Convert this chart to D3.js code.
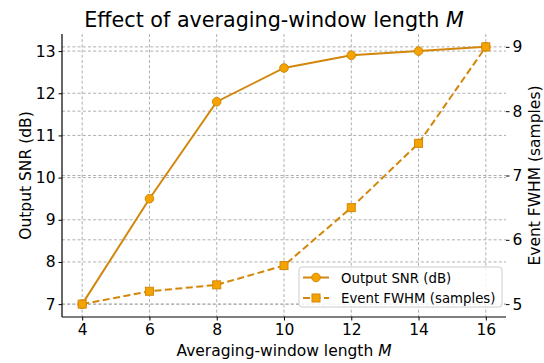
<!DOCTYPE html>
<html>
<head>
<meta charset="utf-8">
<script src="https://cdn.jsdelivr.net/npm/d3@7"></script>
<style>
  html, body { margin: 0; padding: 0; background: #fff; }
  svg { display: block; font-family: "DejaVu Sans", sans-serif; }
</style>
</head>
<body>
<svg id="chart" width="544" height="363"></svg>
<script>
// Averaging-window lengths and the two measured responses
const windowLengths = [4, 6, 8, 10, 12, 14, 16];
const snrValues = [7.0, 9.5, 11.8, 12.6, 12.9, 13.0, 13.1];
const fwhmValues = [5.0, 5.2, 5.3, 5.6, 6.5, 7.5, 9.0];
const xTicks = [4, 6, 8, 10, 12, 14, 16];
const snrTicks = [7, 8, 9, 10, 11, 12, 13];
const fwhmTicks = [5, 6, 7, 8, 9];

const lineColor = "#d2870a";
const markerFill = "#f5a300";
const gridColor = "#a6a6a6";

const svg = d3.select("#chart");
const plot = { left: 62, right: 506, top: 34, bottom: 317 };

// Pad each domain by 5% of the data span
function padded(values, frac = 0.05) {
  const [lo, hi] = d3.extent(values);
  const p = (hi - lo) * frac;
  return [lo - p, hi + p];
}

const x = d3.scaleLinear().domain(padded(windowLengths)).range([plot.left, plot.right]);
const ySnr = d3.scaleLinear().domain(padded(snrValues)).range([plot.bottom, plot.top]);
const yFwhm = d3.scaleLinear().domain(padded(fwhmValues)).range([plot.bottom, plot.top]);

// Grid lines for both vertical axes and the shared x axis
const grid = svg.append("g")
  .attr("stroke", gridColor).attr("stroke-width", 0.9)
  .attr("stroke-dasharray", "3,2.2").attr("fill", "none");
grid.selectAll("line.gx").data(xTicks).join("line")
  .attr("x1", d => x(d)).attr("x2", d => x(d))
  .attr("y1", plot.top).attr("y2", plot.bottom);
grid.selectAll("line.gy1").data(snrTicks).join("line")
  .attr("x1", plot.left).attr("x2", plot.right)
  .attr("y1", d => ySnr(d)).attr("y2", d => ySnr(d));
grid.selectAll("line.gy2").data(fwhmTicks).join("line")
  .attr("x1", plot.left).attr("x2", plot.right)
  .attr("y1", d => yFwhm(d)).attr("y2", d => yFwhm(d));

// Output SNR: solid line with circles
const snrData = windowLengths.map((m, i) => [m, snrValues[i]]);
svg.append("path")
  .datum(snrData)
  .attr("fill", "none").attr("stroke", lineColor).attr("stroke-width", 2)
  .attr("d", d3.line().x(d => x(d[0])).y(d => ySnr(d[1])));
svg.append("g").selectAll("circle").data(snrData).join("circle")
  .attr("cx", d => x(d[0])).attr("cy", d => ySnr(d[1])).attr("r", 4.3)
  .attr("fill", markerFill).attr("stroke", lineColor).attr("stroke-width", 1);

// Event FWHM: dashed line with squares
const fwhmData = windowLengths.map((m, i) => [m, fwhmValues[i]]);
svg.append("path")
  .datum(fwhmData)
  .attr("fill", "none").attr("stroke", lineColor).attr("stroke-width", 2)
  .attr("stroke-dasharray", "7,3.5")
  .attr("d", d3.line().x(d => x(d[0])).y(d => yFwhm(d[1])));
const sq = 8;
svg.append("g").selectAll("rect").data(fwhmData).join("rect")
  .attr("x", d => x(d[0]) - sq / 2).attr("y", d => yFwhm(d[1]) - sq / 2)
  .attr("width", sq).attr("height", sq)
  .attr("fill", markerFill).attr("stroke", lineColor).attr("stroke-width", 1);

// Axes
const tickFont = "15.5px";
const fmt = d3.format("d");
const axisBottom = svg.append("g")
  .attr("transform", `translate(0,${plot.bottom})`)
  .call(d3.axisBottom(x).tickValues(xTicks).tickFormat(fmt).tickSize(3.5).tickPadding(3));
const axisLeft = svg.append("g")
  .attr("transform", `translate(${plot.left},0)`)
  .call(d3.axisLeft(ySnr).tickValues(snrTicks).tickFormat(fmt).tickSize(3.5).tickPadding(3));
const axisRight = svg.append("g")
  .attr("transform", `translate(${plot.right},0)`)
  .call(d3.axisRight(yFwhm).tickValues(fwhmTicks).tickFormat(fmt).tickSize(3.5).tickPadding(3));

[axisBottom, axisLeft, axisRight].forEach(a => {
  a.selectAll("text").attr("font-size", tickFont).attr("fill", "#000")
    .attr("font-family", "DejaVu Sans, sans-serif");
  a.selectAll("line").attr("stroke", "#000").attr("stroke-width", 1);
  a.select(".domain").attr("stroke", "#000").attr("stroke-width", 1.2);
});
axisRight.select(".domain").remove();
axisBottom.select(".domain").attr("d", `M${plot.left},0H${plot.right}`);
axisLeft.select(".domain").attr("d", `M0,${plot.bottom}V${plot.top}`);

// Axis titles
const labelFont = "15.5px";
svg.append("text")
  .attr("x", (plot.left + plot.right) / 2).attr("y", 356)
  .attr("text-anchor", "middle").attr("font-size", labelFont)
  .text("Averaging-window length ")
  .append("tspan").attr("font-style", "italic").text("M");

svg.append("text")
  .attr("transform", `translate(31,${(plot.top + plot.bottom) / 2}) rotate(-90)`)
  .attr("text-anchor", "middle").attr("font-size", labelFont)
  .text("Output SNR (dB)");

svg.append("text")
  .attr("transform", `translate(540,${(plot.top + plot.bottom) / 2}) rotate(-90)`)
  .attr("text-anchor", "middle").attr("font-size", labelFont)
  .text("Event FWHM (samples)");

// Title
svg.append("text")
  .attr("x", 274).attr("y", 27)
  .attr("text-anchor", "middle").attr("font-size", "20.7px")
  .text("Effect of averaging-window length ")
  .append("tspan").attr("font-style", "italic").text("M");

// Legend
const legend = svg.append("g").attr("transform", "translate(299,267)");
legend.append("rect")
  .attr("width", 203).attr("height", 40).attr("rx", 3)
  .attr("fill", "rgba(255,255,255,0.85)").attr("stroke", "#cccccc").attr("stroke-width", 1);
const entries = [
  { label: "Output SNR (dB)", dash: null, shape: "circle" },
  { label: "Event FWHM (samples)", dash: "7,3.5", shape: "square" }
];
entries.forEach((e, i) => {
  const cy = 10.5 + i * 20.5;
  const g = legend.append("g").attr("transform", `translate(0,${cy})`);
  g.append("line").attr("x1", 4).attr("x2", 30).attr("y1", 0).attr("y2", 0)
    .attr("stroke", lineColor).attr("stroke-width", 2)
    .attr("stroke-dasharray", e.dash);
  if (e.shape === "circle") {
    g.append("circle").attr("cx", 17).attr("cy", 0).attr("r", 4.3)
      .attr("fill", markerFill).attr("stroke", lineColor);
  } else {
    g.append("rect").attr("x", 17 - sq / 2).attr("y", -sq / 2)
      .attr("width", sq).attr("height", sq)
      .attr("fill", markerFill).attr("stroke", lineColor);
  }
  g.append("text").attr("x", 42).attr("y", 5)
    .attr("font-size", "13.3px").text(e.label);
});
</script>
</body>
</html>
